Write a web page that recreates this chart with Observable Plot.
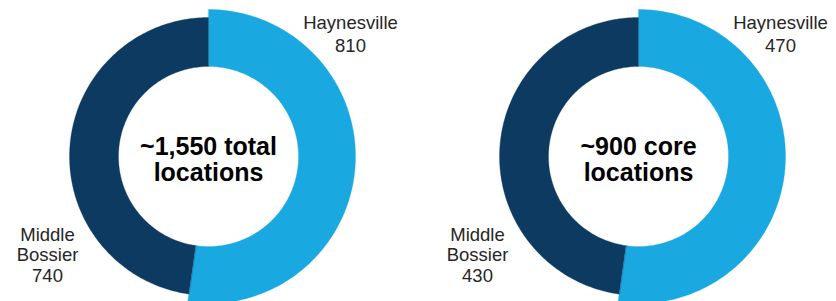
<!DOCTYPE html>
<html><head><meta charset="utf-8">
<script src="https://cdn.jsdelivr.net/npm/d3@7"></script>
<script src="https://cdn.jsdelivr.net/npm/@observablehq/plot@0.6"></script>
<style>html,body{margin:0;padding:0;background:#fff}</style>
</head><body><div id="chart"></div>
<script>
// ---- data ----
const charts = ["total", "core"];
const centerLabels = ["~1,550 total\nlocations", "~900 core\nlocations"];
const segments = ["Haynesville", "Middle Bossier"];
const segmentLabels = ["Haynesville", "Middle\nBossier"];
const haynesville = [810, 470];
const middleBossier = [740, 430];
const colors = ["#19a8e0", "#0c3a61"];

// ---- layout (pixels) ----
const W = 836, H = 301;
const centers = [[208, 156], [638, 156]];
const rInner = 90;
const rOuter = [147, 139];
const labelOffsets = [[142, -143.3], [-161, 69.7]];
const labelLineHeights = [1.22, 1.11];

const slices = [];
const labels = [];
charts.forEach((c, i) => {
  const vals = [haynesville[i], middleBossier[i]];
  const total = d3.sum(vals);
  const [cx, cy] = centers[i];
  let acc = 0;
  vals.forEach((v, j) => {
    const a0 = acc / total * 2 * Math.PI;
    acc += v;
    const a1 = acc / total * 2 * Math.PI;
    const key = c + "-" + segments[j];
    const n = Math.max(8, Math.ceil((a1 - a0) / (Math.PI / 180)));
    const pts = [];
    for (let k = 0; k <= n; k++) {
      const a = a0 + (a1 - a0) * k / n;
      pts.push([cx + rOuter[j] * Math.sin(a), cy - rOuter[j] * Math.cos(a)]);
    }
    for (let k = n; k >= 0; k--) {
      const a = a0 + (a1 - a0) * k / n;
      pts.push([cx + rInner * Math.sin(a), cy - rInner * Math.cos(a)]);
    }
    pts.forEach(([px, py]) => slices.push({key, segment: segments[j], px, py}));
    labels.push({
      seg: j,
      text: segmentLabels[j] + "\n" + v,
      px: cx + labelOffsets[j][0],
      py: cy + labelOffsets[j][1]
    });
  });
});
const centerRows = charts.map((c, i) => ({text: centerLabels[i], px: centers[i][0], py: centers[i][1] - 20.2}));

const chart = Plot.plot({
  width: W, height: H, margin: 0,
  x: {domain: [0, W], range: [0, W], axis: null},
  y: {domain: [0, H], range: [0, H], axis: null},
  color: {domain: segments, range: colors},
  style: {fontFamily: "'Liberation Sans', Arial, sans-serif", background: "#fff"},
  marks: [
    Plot.line(slices, {x: "px", y: "py", z: "key", fill: "segment", stroke: "segment", strokeWidth: 0.3, curve: "linear-closed"}),
    ...[0, 1].map(j => Plot.text(labels.filter(d => d.seg === j), {x: "px", y: "py", text: "text", fontSize: 18.5, lineAnchor: "top", lineHeight: labelLineHeights[j], fill: "#262626", textAnchor: "middle"})),
    Plot.text(centerRows, {x: "px", y: "py", text: "text", fontSize: 25, fontWeight: "bold", lineAnchor: "top", lineHeight: 1.04, fill: "#000", textAnchor: "middle"})
  ]
});
document.getElementById("chart").appendChild(chart);
</script>
</body></html>
